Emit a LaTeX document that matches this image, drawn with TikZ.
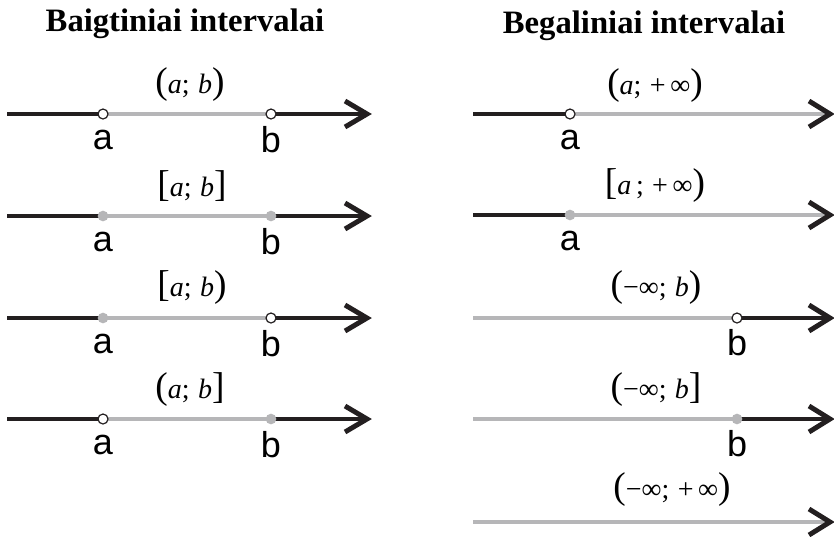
\documentclass[tikz,border=0pt]{standalone}
\usepackage{fontspec}
\setmainfont{Liberation Serif}
\newfontfamily\labfont{Liberation Sans}
\definecolor{ink}{RGB}{35,31,32}
\definecolor{segg}{RGB}{182,182,184}
\newcommand{\Dl}[1]{{\fontsize{28}{28}\selectfont #1}}
\newcommand{\sep}{;\hspace{0.3em}}
\tikzset{
  blk/.style={line width=3.7pt, color=ink},
  gry/.style={line width=2.6pt, color=segg},
  chev/.style={line width=3.7pt, color=ink, line join=miter},
  openpt/.style={circle, draw=ink, line width=0.9pt, fill=white, inner sep=0pt, minimum size=7.5pt},
  fullpt/.style={circle, fill=segg, inner sep=0pt, minimum size=8pt},
  ptlab/.style={font=\labfont\fontsize{27}{27}\selectfont, inner sep=0pt},
  ivlab/.style={font=\fontsize{21}{21}\selectfont, inner sep=0pt},
  title/.style={font=\bfseries\fontsize{24.5}{25}\selectfont, inner sep=0pt, anchor=base}
}
\begin{document}
\begin{tikzpicture}[x=0.75pt,y=-0.75pt]
\useasboundingbox (0,0) rectangle (834,536);
\node[title] (t1) at (185,31) {Baigtiniai intervalai};
\node[title] (t2) at (644,33) {Begaliniai intervalai};

% ---------- left column ----------
% row 1
\coordinate (s1) at (7,114); \coordinate (a1) at (103,114); \coordinate (b1) at (271,114); \coordinate (e1) at (367,114);
\draw[blk] (s1) -- (a1); \draw[gry] (a1) -- (b1); \draw[blk] (b1) -- (e1);
\draw[chev] (e1) ++(-22,-13) -- (e1) -- ++(-22,13);
\node[openpt] (pa1) at (a1) {}; \node[openpt] (pb1) at (b1) {};
\node[ptlab] (la1) at (103,140) {a}; \node[ptlab] (lb1) at (271,140) {b};
\node[ivlab] (i1) at (190,85) {\Dl{(}\textit{a}\sep\textit{b}\Dl{)}};
% row 2
\coordinate (s2) at (7,216); \coordinate (a2) at (103,216); \coordinate (b2) at (271,216); \coordinate (e2) at (367,216);
\draw[blk] (s2) -- (a2); \draw[gry] (a2) -- (b2); \draw[blk] (b2) -- (e2);
\draw[chev] (e2) ++(-22,-13) -- (e2) -- ++(-22,13);
\node[fullpt] (pa2) at (a2) {}; \node[fullpt] (pb2) at (b2) {};
\node[ptlab] (la2) at (103,242) {a}; \node[ptlab] (lb2) at (271,242) {b};
\node[ivlab] (i2) at (192,186) {\Dl{[}\textit{a}\sep\textit{b}\Dl{]}};
% row 3
\coordinate (s3) at (7,318); \coordinate (a3) at (103,318); \coordinate (b3) at (271,318); \coordinate (e3) at (367,318);
\draw[blk] (s3) -- (a3); \draw[gry] (a3) -- (b3); \draw[blk] (b3) -- (e3);
\draw[chev] (e3) ++(-22,-13) -- (e3) -- ++(-22,13);
\node[fullpt] (pa3) at (a3) {}; \node[openpt] (pb3) at (b3) {};
\node[ptlab] (la3) at (103,344) {a}; \node[ptlab] (lb3) at (271,344) {b};
\node[ivlab] (i3) at (192,288) {\Dl{[}\textit{a}\sep\textit{b}\Dl{)}};
% row 4
\coordinate (s4) at (7,419); \coordinate (a4) at (103,419); \coordinate (b4) at (271,419); \coordinate (e4) at (367,419);
\draw[blk] (s4) -- (a4); \draw[gry] (a4) -- (b4); \draw[blk] (b4) -- (e4);
\draw[chev] (e4) ++(-22,-13) -- (e4) -- ++(-22,13);
\node[openpt] (pa4) at (a4) {}; \node[fullpt] (pb4) at (b4) {};
\node[ptlab] (la4) at (103,445) {a}; \node[ptlab] (lb4) at (271,445) {b};
\node[ivlab] (i4) at (190,390) {\Dl{(}\textit{a}\sep\textit{b}\Dl{]}};

% ---------- right column ----------
% row 1
\coordinate (rs1) at (473,114); \coordinate (ra1) at (570,114); \coordinate (re1) at (830,114);
\draw[blk] (rs1) -- (ra1); \draw[gry] (ra1) -- (re1);
\draw[chev] (re1) ++(-21,-13) -- (re1) -- ++(-21,13);
\node[openpt] (rpa1) at (ra1) {};
\node[ptlab] (rla1) at (570,140) {a};
\node[ivlab] (ri1) at (655,86) {\Dl{(}\textit{a}\sep+\,∞\Dl{)}};
% row 2
\coordinate (rs2) at (473,215); \coordinate (ra2) at (570,215); \coordinate (re2) at (830,215);
\draw[blk] (rs2) -- (ra2); \draw[gry] (ra2) -- (re2);
\draw[chev] (re2) ++(-21,-13) -- (re2) -- ++(-21,13);
\node[fullpt] (rpa2) at (ra2) {};
\node[ptlab] (rla2) at (570,241) {a};
\node[ivlab] (ri2) at (655,186) {\Dl{[}\textit{a}\,\sep+\,∞\Dl{)}};
% row 3
\coordinate (rs3) at (473,318); \coordinate (rb3) at (737,318); \coordinate (re3) at (830,318);
\draw[gry] (rs3) -- (rb3); \draw[blk] (rb3) -- (re3);
\draw[chev] (re3) ++(-21,-13) -- (re3) -- ++(-21,13);
\node[openpt] (rpb3) at (rb3) {};
\node[ptlab] (rlb3) at (737,343) {b};
\node[ivlab] (ri3) at (656,288) {\Dl{(}−∞\sep\textit{b}\Dl{)}};
% row 4
\coordinate (rs4) at (473,419); \coordinate (rb4) at (737,419); \coordinate (re4) at (830,419);
\draw[gry] (rs4) -- (rb4); \draw[blk] (rb4) -- (re4);
\draw[chev] (re4) ++(-21,-13) -- (re4) -- ++(-21,13);
\node[fullpt] (rpb4) at (rb4) {};
\node[ptlab] (rlb4) at (737,444) {b};
\node[ivlab] (ri4) at (656,390) {\Dl{(}−∞\sep\textit{b}\Dl{]}};
% row 5
\coordinate (rs5) at (473,522); \coordinate (re5) at (830,522);
\draw[gry] (rs5) -- (re5);
\draw[chev] (re5) ++(-21,-13) -- (re5) -- ++(-21,13);
\node[ivlab] (ri5) at (672,490) {\Dl{(}−∞\sep+\,∞\Dl{)}};
\end{tikzpicture}
\end{document}
